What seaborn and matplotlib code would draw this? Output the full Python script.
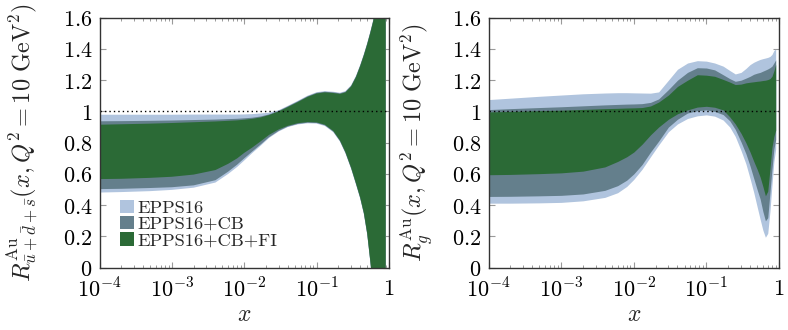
import numpy as np
import pandas as pd
import matplotlib
matplotlib.use("Agg")
import matplotlib.pyplot as plt
import seaborn as sns
from matplotlib.patches import Patch
from matplotlib.ticker import FixedLocator, FixedFormatter, LogLocator, NullFormatter

# ---------------- data ----------------
sets = ["EPPS16", "EPPS16+CB", "EPPS16+CB+FI"]
colors = ["#b0c4de", "#647f8c", "#2b6a36"]

# Left panel: sea quarks  R_{ubar+dbar+sbar}
x_left = [1e-4, 2e-4, 5e-4, 1e-3, 2e-3, 4e-3, 6e-3, 0.008, 0.01, 0.013, 0.017, 0.022,
          0.03, 0.04, 0.055, 0.075, 0.1, 0.13, 0.17, 0.21, 0.25, 0.3, 0.35, 0.4,
          0.45, 0.5, 0.55, 0.6, 0.66, 0.72, 0.8, 0.9]
left_epps16_hi = [0.979, 0.979, 0.979, 0.979, 0.980, 0.980, 0.980, 0.980, 0.981, 0.983, 0.987, 0.992,
                  1.008, 1.036, 1.068, 1.101, 1.123, 1.130, 1.126, 1.120, 1.130, 1.168, 1.228, 1.298,
                  1.368, 1.438, 1.508, 1.578, 1.668, 1.758, 1.908, 2.108]
left_epps16_lo = [0.481, 0.484, 0.490, 0.498, 0.512, 0.545, 0.600, 0.645, 0.686, 0.735, 0.782, 0.830,
                  0.872, 0.900, 0.917, 0.924, 0.922, 0.907, 0.867, 0.807, 0.732, 0.632, 0.532, 0.442,
                  0.342, 0.212, 0.042, -0.128, -0.358, -0.608, -1.008, -1.508]
left_cb_hi = [0.937, 0.938, 0.940, 0.942, 0.945, 0.948, 0.951, 0.953, 0.956, 0.960, 0.968, 0.981,
              1.004, 1.032, 1.064, 1.097, 1.119, 1.126, 1.122, 1.116, 1.126, 1.164, 1.224, 1.294,
              1.364, 1.434, 1.504, 1.574, 1.664, 1.754, 1.904, 2.104]
left_cb_lo = [0.503, 0.505, 0.510, 0.515, 0.527, 0.560, 0.615, 0.660, 0.700, 0.745, 0.790, 0.835,
              0.876, 0.903, 0.920, 0.928, 0.926, 0.911, 0.871, 0.811, 0.736, 0.636, 0.536, 0.446,
              0.346, 0.216, 0.046, -0.124, -0.354, -0.604, -1.004, -1.504]
left_fi_hi = [0.915, 0.918, 0.922, 0.926, 0.931, 0.936, 0.940, 0.943, 0.947, 0.953, 0.962, 0.977,
              1.000, 1.028, 1.060, 1.093, 1.115, 1.122, 1.118, 1.112, 1.122, 1.160, 1.220, 1.290,
              1.360, 1.430, 1.500, 1.570, 1.660, 1.750, 1.900, 2.100]
left_fi_lo = [0.567, 0.569, 0.575, 0.582, 0.596, 0.625, 0.665, 0.700, 0.735, 0.770, 0.810, 0.850,
              0.885, 0.908, 0.925, 0.932, 0.930, 0.915, 0.875, 0.815, 0.740, 0.640, 0.540, 0.450,
              0.350, 0.220, 0.050, -0.120, -0.350, -0.600, -1.000, -1.500]

# Right panel: gluons R_g
x_right = [1e-4, 2e-4, 5e-4, 1e-3, 2e-3, 4e-3, 6e-3, 0.008, 0.01, 0.013, 0.017, 0.022,
           0.03, 0.04, 0.055, 0.075, 0.1, 0.13, 0.17, 0.21, 0.25, 0.3, 0.35, 0.4,
           0.45, 0.5, 0.55, 0.6, 0.65, 0.7, 0.75, 0.8, 0.85, 0.9]
right_epps16_hi = [1.076, 1.085, 1.097, 1.105, 1.113, 1.118, 1.120, 1.120, 1.119, 1.118, 1.117, 1.125,
                   1.200, 1.270, 1.310, 1.325, 1.322, 1.310, 1.290, 1.262, 1.240, 1.250, 1.275, 1.300,
                   1.315, 1.325, 1.333, 1.338, 1.342, 1.346, 1.352, 1.365, 1.390, 1.400]
right_epps16_lo = [0.413, 0.413, 0.415, 0.418, 0.428, 0.450, 0.480, 0.520, 0.565, 0.630, 0.710, 0.785,
                   0.870, 0.920, 0.955, 0.972, 0.978, 0.970, 0.945, 0.900, 0.840, 0.750, 0.665, 0.570,
                   0.480, 0.390, 0.310, 0.240, 0.195, 0.220, 0.360, 0.530, 0.680, 0.760]
right_cb_hi = [1.012, 1.018, 1.025, 1.030, 1.036, 1.042, 1.045, 1.047, 1.048, 1.050, 1.058, 1.080,
               1.140, 1.200, 1.250, 1.280, 1.278, 1.266, 1.235, 1.210, 1.193, 1.200, 1.213, 1.225,
               1.238, 1.245, 1.250, 1.258, 1.265, 1.272, 1.280, 1.290, 1.310, 1.330]
right_cb_lo = [0.456, 0.457, 0.460, 0.463, 0.472, 0.495, 0.525, 0.560, 0.600, 0.660, 0.740, 0.810,
               0.900, 0.950, 0.990, 1.005, 1.010, 1.000, 0.980, 0.940, 0.885, 0.805, 0.730, 0.650,
               0.570, 0.500, 0.440, 0.360, 0.300, 0.320, 0.480, 0.630, 0.760, 0.820]
right_fi_hi = [0.997, 1.000, 1.005, 1.008, 1.013, 1.018, 1.020, 1.022, 1.023, 1.025, 1.035, 1.060,
               1.105, 1.160, 1.200, 1.235, 1.232, 1.225, 1.205, 1.188, 1.172, 1.175, 1.183, 1.187,
               1.190, 1.193, 1.195, 1.198, 1.200, 1.204, 1.210, 1.225, 1.260, 1.300]
right_fi_lo = [0.595, 0.597, 0.602, 0.607, 0.618, 0.645, 0.680, 0.710, 0.740, 0.790, 0.850, 0.900,
               0.950, 0.985, 1.010, 1.028, 1.033, 1.027, 1.010, 0.965, 0.920, 0.860, 0.800, 0.740,
               0.680, 0.630, 0.580, 0.520, 0.460, 0.490, 0.630, 0.770, 0.840, 0.880]

y_ticks = [0, 0.2, 0.4, 0.6, 0.8, 1, 1.2, 1.4, 1.6]
y_tick_labels = ["0", "0.2", "0.4", "0.6", "0.8", "1", "1.2", "1.4", "1.6"]
x_ticks = [1e-4, 1e-3, 1e-2, 1e-1, 1]
x_tick_labels = ["10^{-4}", "10^{-3}", "10^{-2}", "10^{-1}", "1"]

left_ylabel = r"$R^{\rm Au}_{\bar{u}+\bar{d}+\bar{s}}(x,Q^2=10\ {\rm GeV}^2)$"
right_ylabel = r"$R^{\rm Au}_{g}(x,Q^2=10\ {\rm GeV}^2)$"

# ---------------- style ----------------
sns.set_theme(style="ticks")
plt.rcParams["mathtext.fontset"] = "cm"
plt.rcParams["font.family"] = ["DejaVu Serif"]


def long_frame(x, bands):
    rows = []
    for name, (lo, hi) in zip(sets, bands):
        for xi, a, b in zip(x, lo, hi):
            rows.append({"x": xi, "R": a, "set": name})
            rows.append({"x": xi, "R": b, "set": name})
    return pd.DataFrame(rows)


df_left = long_frame(x_left, [(left_epps16_lo, left_epps16_hi),
                              (left_cb_lo, left_cb_hi),
                              (left_fi_lo, left_fi_hi)])
df_right = long_frame(x_right, [(right_epps16_lo, right_epps16_hi),
                                (right_cb_lo, right_cb_hi),
                                (right_fi_lo, right_fi_hi)])

W, H = 788, 330
fig = plt.figure(figsize=(W / 100, H / 100), dpi=100)
ax1 = fig.add_axes([99.5 / W, 62.3 / H, 289.5 / W, 250 / H])
ax2 = fig.add_axes([488.5 / W, 62.3 / H, 290.5 / W, 250 / H])

palette = dict(zip(sets, colors))
for ax, df, ylab in [(ax1, df_left, left_ylabel), (ax2, df_right, right_ylabel)]:
    ax.set_xscale("log")
    sns.lineplot(data=df, x="x", y="R", hue="set", hue_order=sets, palette=palette,
                 estimator="mean", errorbar=("pi", 100), err_style="band",
                 err_kws={"alpha": 1, "linewidth": 0}, linewidth=0,
                 legend=False, ax=ax)
    ax.axhline(1.0, color="black", linestyle=(0, (1, 2.2)), linewidth=1.0, zorder=5)
    ax.set_xlim(1e-4, 1)
    ax.set_ylim(0, 1.6)
    ax.xaxis.set_major_locator(FixedLocator(x_ticks))
    ax.xaxis.set_major_formatter(FixedFormatter(["$" + t + "$" for t in x_tick_labels]))
    ax.xaxis.set_minor_locator(LogLocator(base=10, subs=np.arange(2, 10), numticks=20))
    ax.xaxis.set_minor_formatter(NullFormatter())
    ax.yaxis.set_major_locator(FixedLocator(y_ticks))
    ax.yaxis.set_major_formatter(FixedFormatter(["$" + t + "$" for t in y_tick_labels]))
    ax.tick_params(which="both", direction="in", top=True, right=True, color="#9a9a9a",
                   labelsize=16, labelcolor="black")
    ax.tick_params(which="major", length=4.5, width=0.8)
    ax.tick_params(axis="y", which="major", pad=5)
    ax.tick_params(axis="x", which="major", pad=7.5)
    ax.tick_params(which="minor", length=2.5, width=0.7)
    for s in ax.spines.values():
        s.set_linewidth(1.0)
        s.set_color("#333333")
        s.set_zorder(6)
    ax.set_xlabel("$x$", fontsize=17, labelpad=0.5)
    ax.set_ylabel(ylab, fontsize=17.5)

ax1.yaxis.set_label_coords(-0.205, 0.5)
ax2.yaxis.set_label_coords(-0.185, 0.5)

handles = [Patch(facecolor=c, edgecolor="none", label=n) for n, c in zip(sets, colors)]
ax1.legend(handles=handles, loc="upper left", bbox_to_anchor=(0.07, 0.272),
           frameon=False, borderpad=0, borderaxespad=0, handlelength=0.75,
           handleheight=0.75, handletextpad=0.2, labelspacing=0.0,
           prop={"family": "cmr10", "size": 13.3})

fig.savefig("out.png", dpi=100)
